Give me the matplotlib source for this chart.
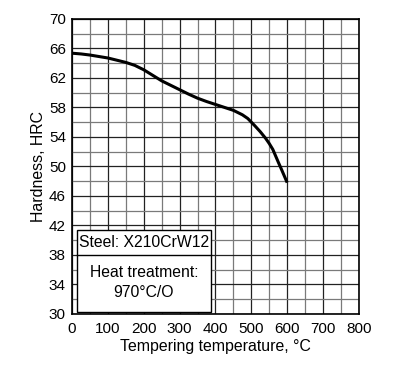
import numpy as np
import matplotlib
matplotlib.use("Agg")
import matplotlib.pyplot as plt
from matplotlib.patches import Rectangle

plt.rcParams['font.family'] = ['Liberation Sans', 'DejaVu Sans']

# hardness curve
temp = [0, 25, 50, 75, 100, 125, 150, 175, 200, 225, 250, 275, 300, 325, 350, 375,
        400, 425, 450, 475, 490, 500, 510, 525, 540, 550, 560, 575, 585, 600]
hardness = [65.35, 65.25, 65.1, 64.9, 64.7, 64.4, 64.1, 63.7, 63.1, 62.35, 61.6, 61.0,
            60.4, 59.8, 59.25, 58.8, 58.4, 58.0, 57.6, 57.0, 56.5, 56.0, 55.5, 54.7,
            53.8, 53.1, 52.3, 50.6, 49.5, 47.8]

x_ticks = [0, 100, 200, 300, 400, 500, 600, 700, 800]
y_ticks = [30, 34, 38, 42, 46, 50, 54, 58, 62, 66, 70]

fig = plt.figure(figsize=(4.12, 3.71), dpi=100)
ax = fig.add_axes([0.175, 0.154, 0.696, 0.795])

ax.plot(temp, hardness, color='black', linewidth=2.2, solid_capstyle='butt',
        solid_joinstyle='round', zorder=3)

ax.set_xlim(0, 800)
ax.set_ylim(30, 70)
ax.set_xticks(x_ticks)
ax.set_yticks(y_ticks)
ax.set_xticks(np.arange(0, 801, 50), minor=True)
ax.set_yticks(np.arange(30, 71, 2), minor=True)
ax.grid(True, which='major', color='#222222', linewidth=0.9)
ax.grid(True, which='minor', color='#7a7a7a', linewidth=0.9)
ax.tick_params(which='both', length=0, labelsize=11)
ax.tick_params(axis='x', pad=6)
ax.tick_params(axis='y', pad=4.5)
for s in ax.spines.values():
    s.set_linewidth(1.2)

ax.set_xlabel("Tempering temperature, °C", fontsize=11.4, labelpad=2)
ax.set_ylabel("Hardness, HRC", fontsize=11.4, labelpad=2)

# info box
ax.add_patch(Rectangle((14, 30.3), 373, 11.1, facecolor='white', edgecolor='black',
                       linewidth=1.0, zorder=4))
ax.plot([14, 387], [38.0, 38.0], color='black', linewidth=1.0, zorder=5)
ax.text(200, 39.7, "Steel: X210CrW12", ha='center', va='center', fontsize=11.3, zorder=6)
ax.text(200, 35.6, "Heat treatment:", ha='center', va='center', fontsize=11.3, zorder=6)
ax.text(200, 32.9, "970°C/O", ha='center', va='center', fontsize=11.3, zorder=6)

fig.savefig("out.png", dpi=100)
